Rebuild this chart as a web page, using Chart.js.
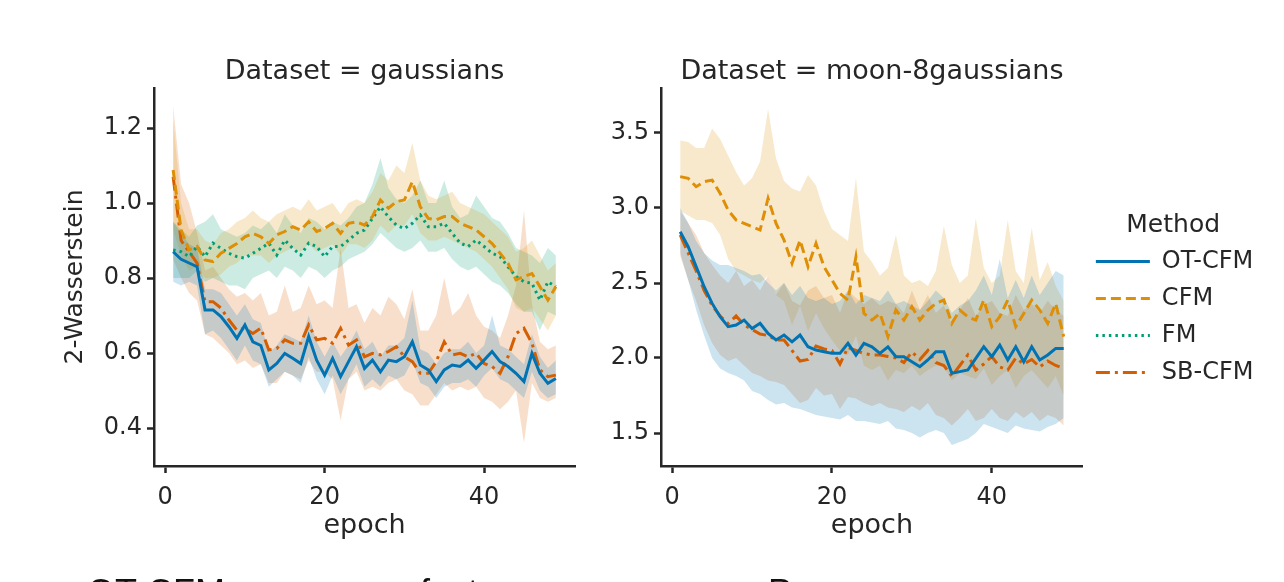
<!DOCTYPE html>
<html>
<head>
<meta charset="utf-8">
<script src="https://cdn.jsdelivr.net/npm/chart.js@4.4.1/dist/chart.umd.min.js"></script>
<style>
  html, body { margin: 0; padding: 0; background: #fff; overflow: hidden; }
  #wrap { position: relative; width: 1284px; height: 582px; overflow: hidden; background: #fff; }
  #c1 { position: absolute; left: 0; top: 0; }
  #c2 { position: absolute; left: 600px; top: 0; }
  .cap { position: absolute; top: 575px; font: 36px "Liberation Sans", Arial, sans-serif; line-height: 36px; color: #111; white-space: nowrap; }
</style>
</head>
<body>
<div id="wrap">
  <canvas id="c1" width="600" height="582"></canvas>
  <canvas id="c2" width="684" height="582"></canvas>
  <div class="cap" style="left:87px">OT-CFM converges</div>
  <div class="cap" style="left:420px">faster on average,</div>
  <div class="cap" style="left:768px">P</div>
</div>
<script>
// ---- data ----
const epochs = [1, 2, 3, 4, 5, 6, 7, 8, 9, 10, 11, 12, 13, 14, 15, 16, 17, 18, 19, 20,
  21, 22, 23, 24, 25, 26, 27, 28, 29, 30, 31, 32, 33, 34, 35, 36, 37, 38, 39, 40,
  41, 42, 43, 44, 45, 46, 47, 48, 49];
const methods = ['OT-CFM', 'CFM', 'FM', 'SB-CFM'];
const xTicks = [0, 20, 40];
const gaussTicks = [0.4, 0.6, 0.8, 1.0, 1.2];
const moonTicks = [1.5, 2.0, 2.5, 3.0, 3.5];

// Dataset = gaussians
const gOtMean = [0.87, 0.85, 0.84, 0.83, 0.715, 0.715, 0.697, 0.670, 0.639, 0.675, 0.630, 0.620, 0.555, 0.572, 0.599, 0.586, 0.572, 0.644, 0.581, 0.541,
  0.586, 0.537, 0.577, 0.617, 0.559, 0.581, 0.550, 0.581, 0.577, 0.590, 0.630, 0.568, 0.555, 0.524, 0.555, 0.568, 0.564, 0.581, 0.559, 0.581,
  0.604, 0.577, 0.564, 0.546, 0.524, 0.599, 0.546, 0.519, 0.532];
const gOtLow = [0.79, 0.78, 0.79, 0.78, 0.65, 0.66, 0.64, 0.61, 0.58, 0.62, 0.58, 0.57, 0.51, 0.53, 0.55, 0.54, 0.52, 0.59, 0.53, 0.49,
  0.54, 0.49, 0.53, 0.57, 0.51, 0.53, 0.51, 0.54, 0.53, 0.54, 0.58, 0.52, 0.51, 0.48, 0.51, 0.52, 0.52, 0.53, 0.51, 0.54,
  0.56, 0.53, 0.52, 0.50, 0.48, 0.55, 0.50, 0.48, 0.49];
const gOtHigh = [0.95, 0.92, 0.89, 0.88, 0.77, 0.77, 0.76, 0.73, 0.70, 0.73, 0.69, 0.68, 0.60, 0.62, 0.65, 0.64, 0.63, 0.70, 0.63, 0.59,
  0.63, 0.59, 0.62, 0.66, 0.61, 0.63, 0.59, 0.62, 0.62, 0.64, 0.74, 0.61, 0.60, 0.57, 0.60, 0.61, 0.61, 0.63, 0.60, 0.62,
  0.70, 0.62, 0.61, 0.59, 0.57, 0.65, 0.59, 0.56, 0.58];

const gCfmMean = [1.088, 0.928, 0.875, 0.884, 0.848, 0.844, 0.866, 0.879, 0.892, 0.910, 0.919, 0.910, 0.892, 0.915, 0.924, 0.937, 0.928, 0.950, 0.924, 0.932,
  0.946, 0.919, 0.946, 0.950, 0.941, 0.964, 1.008, 0.986, 1.004, 1.008, 1.057, 0.990, 0.959, 0.955, 0.964, 0.964, 0.946, 0.937, 0.928, 0.910,
  0.892, 0.866, 0.839, 0.795, 0.804, 0.812, 0.777, 0.741, 0.777];
const gCfmLow = [0.93, 0.86, 0.82, 0.83, 0.80, 0.80, 0.81, 0.83, 0.84, 0.86, 0.86, 0.86, 0.84, 0.86, 0.87, 0.88, 0.87, 0.89, 0.87, 0.88,
  0.89, 0.86, 0.89, 0.89, 0.88, 0.90, 0.94, 0.92, 0.94, 0.94, 0.97, 0.92, 0.90, 0.90, 0.91, 0.90, 0.89, 0.88, 0.87, 0.85,
  0.83, 0.80, 0.77, 0.72, 0.71, 0.72, 0.69, 0.66, 0.70];
const gCfmHigh = [1.22, 1.00, 0.93, 0.93, 0.90, 0.89, 0.92, 0.93, 0.95, 0.96, 0.98, 0.96, 0.95, 0.97, 0.98, 0.99, 0.98, 1.01, 0.98, 0.99,
  1.00, 0.97, 1.00, 1.01, 1.00, 1.03, 1.08, 1.06, 1.10, 1.08, 1.16, 1.06, 1.02, 1.01, 1.02, 1.03, 1.00, 0.99, 0.98, 0.97,
  0.95, 0.93, 0.91, 0.87, 0.88, 0.90, 0.86, 0.82, 0.84];

const gFmMean = [0.875, 0.870, 0.857, 0.884, 0.857, 0.893, 0.879, 0.866, 0.857, 0.853, 0.866, 0.879, 0.893, 0.861, 0.901, 0.879, 0.861, 0.893, 0.884, 0.857,
  0.884, 0.884, 0.901, 0.919, 0.928, 0.959, 0.990, 0.963, 0.941, 0.932, 0.946, 0.968, 0.937, 0.937, 0.946, 0.919, 0.893, 0.884, 0.901, 0.884,
  0.866, 0.857, 0.830, 0.804, 0.790, 0.786, 0.741, 0.790, 0.777];
const gFmLow = [0.80, 0.80, 0.80, 0.82, 0.79, 0.80, 0.79, 0.78, 0.78, 0.77, 0.80, 0.81, 0.82, 0.80, 0.83, 0.82, 0.80, 0.83, 0.82, 0.80,
  0.82, 0.83, 0.85, 0.86, 0.87, 0.89, 0.92, 0.90, 0.88, 0.87, 0.88, 0.90, 0.87, 0.87, 0.88, 0.85, 0.83, 0.82, 0.83, 0.81,
  0.79, 0.78, 0.76, 0.73, 0.71, 0.71, 0.66, 0.71, 0.70];
const gFmHigh = [0.95, 0.93, 0.91, 0.94, 0.95, 0.97, 0.93, 0.92, 0.91, 0.92, 0.94, 0.93, 0.95, 0.92, 0.97, 0.94, 0.92, 0.96, 0.95, 0.93,
  0.95, 0.94, 0.96, 0.99, 1.00, 1.05, 1.12, 1.04, 1.01, 1.00, 1.02, 1.06, 1.00, 1.00, 1.06, 0.99, 0.96, 0.97, 1.02, 0.99,
  0.96, 0.95, 0.92, 0.88, 0.87, 0.86, 0.84, 0.88, 0.86];

const gSbMean = [1.07, 0.90, 0.87, 0.84, 0.737, 0.737, 0.720, 0.688, 0.661, 0.666, 0.652, 0.666, 0.608, 0.612, 0.635, 0.626, 0.626, 0.675, 0.635, 0.639,
  0.626, 0.666, 0.621, 0.635, 0.590, 0.599, 0.595, 0.604, 0.617, 0.590, 0.577, 0.546, 0.546, 0.577, 0.630, 0.595, 0.599, 0.590, 0.599, 0.572,
  0.564, 0.546, 0.590, 0.652, 0.666, 0.626, 0.555, 0.537, 0.541];
const gSbLow = [0.85, 0.80, 0.76, 0.74, 0.65, 0.64, 0.62, 0.60, 0.57, 0.58, 0.56, 0.57, 0.52, 0.52, 0.55, 0.54, 0.53, 0.58, 0.55, 0.55,
  0.53, 0.42, 0.53, 0.55, 0.50, 0.51, 0.50, 0.52, 0.53, 0.50, 0.49, 0.46, 0.46, 0.49, 0.52, 0.50, 0.51, 0.50, 0.51, 0.48,
  0.47, 0.45, 0.47, 0.50, 0.36, 0.52, 0.48, 0.47, 0.48];
const gSbHigh = [1.26, 1.05, 1.00, 0.92, 0.82, 0.83, 0.80, 0.77, 0.75, 0.76, 0.74, 0.76, 0.70, 0.71, 0.78, 0.71, 0.72, 0.78, 0.73, 0.74,
  0.72, 0.88, 0.72, 0.73, 0.68, 0.72, 0.70, 0.75, 0.73, 0.69, 0.77, 0.66, 0.66, 0.70, 0.80, 0.70, 0.72, 0.76, 0.70, 0.67,
  0.66, 0.64, 0.70, 0.78, 0.98, 0.73, 0.63, 0.61, 0.62];

// Dataset = moon-8gaussians (no FM run)
const mOtMean = [2.842, 2.742, 2.609, 2.475, 2.364, 2.275, 2.209, 2.220, 2.253, 2.197, 2.231, 2.164, 2.120, 2.153, 2.108, 2.153, 2.075, 2.053, 2.042, 2.031,
  2.031, 2.098, 2.020, 2.098, 2.075, 2.031, 2.075, 2.009, 2.009, 1.975, 1.942, 1.987, 2.042, 2.042, 1.898, 1.909, 1.920, 1.998, 2.075, 2.009,
  2.086, 1.987, 2.075, 1.975, 2.075, 1.987, 2.020, 2.064, 2.064];
const mOtLow = [2.70, 2.52, 2.32, 2.15, 2.00, 1.93, 1.90, 1.88, 1.85, 1.78, 1.76, 1.72, 1.69, 1.70, 1.67, 1.66, 1.64, 1.62, 1.61, 1.60,
  1.59, 1.62, 1.58, 1.58, 1.57, 1.56, 1.58, 1.53, 1.52, 1.50, 1.47, 1.50, 1.52, 1.50, 1.42, 1.44, 1.46, 1.50, 1.56, 1.54,
  1.52, 1.50, 1.55, 1.53, 1.52, 1.51, 1.54, 1.56, 1.60];
const mOtHigh = [3.00, 2.90, 2.78, 2.70, 2.65, 2.62, 2.62, 2.60, 2.58, 2.55, 2.56, 2.50, 2.45, 2.50, 2.42, 2.48, 2.40, 2.38, 2.40, 2.36,
  2.38, 2.45, 2.36, 2.42, 2.40, 2.38, 2.45, 2.36, 2.38, 2.35, 2.32, 2.38, 2.45, 2.40, 2.30, 2.35, 2.38, 2.45, 2.55, 2.42,
  2.66, 2.40, 2.52, 2.40, 2.55, 2.42, 2.50, 2.58, 2.55];

const mCfmMean = [3.209, 3.198, 3.142, 3.175, 3.186, 3.098, 2.986, 2.920, 2.897, 2.875, 2.853, 3.064, 2.897, 2.786, 2.631, 2.786, 2.609, 2.764, 2.609, 2.520,
  2.431, 2.386, 2.675, 2.297, 2.253, 2.297, 2.142, 2.320, 2.253, 2.342, 2.253, 2.320, 2.364, 2.386, 2.231, 2.320, 2.275, 2.253, 2.386, 2.209,
  2.275, 2.386, 2.209, 2.297, 2.386, 2.320, 2.231, 2.364, 2.142];
const mCfmLow = [2.98, 2.95, 2.92, 2.92, 2.90, 2.82, 2.66, 2.58, 2.55, 2.52, 2.50, 2.55, 2.42, 2.38, 2.22, 2.35, 2.18, 2.30, 2.20, 2.12,
  2.05, 2.02, 2.15, 1.95, 1.92, 1.95, 1.85, 1.92, 1.90, 1.95, 1.88, 1.92, 1.95, 1.94, 1.85, 1.90, 1.88, 1.86, 1.93, 1.82,
  1.88, 1.92, 1.80, 1.88, 1.92, 1.86, 1.80, 1.88, 1.75];
const mCfmHigh = [3.45, 3.44, 3.40, 3.40, 3.53, 3.46, 3.35, 3.24, 3.15, 3.20, 3.31, 3.66, 3.33, 3.18, 3.13, 3.11, 3.22, 3.15, 2.98, 2.86,
  2.82, 2.78, 3.20, 2.71, 2.64, 2.55, 2.60, 2.82, 2.55, 2.50, 2.52, 2.48, 2.58, 2.88, 2.62, 2.50, 2.55, 2.93, 2.60, 2.50,
  2.55, 2.92, 2.58, 2.50, 2.87, 2.52, 2.64, 2.48, 2.38];

const mSbMean = [2.82, 2.70, 2.58, 2.45, 2.35, 2.28, 2.23, 2.28, 2.22, 2.19, 2.16, 2.15, 2.12, 2.12, 2.05, 1.98, 1.99, 2.08, 2.06, 2.05,
  1.96, 2.07, 2.05, 2.03, 2.02, 2.02, 2.01, 2.00, 1.97, 2.04, 1.99, 2.05, 1.97, 1.95, 1.88, 1.95, 2.02, 1.92, 1.96, 2.01,
  1.94, 1.92, 2.00, 1.96, 1.99, 1.94, 1.98, 1.95, 1.93];
const mSbLow = [2.68, 2.52, 2.38, 2.22, 2.10, 2.02, 1.98, 2.00, 1.95, 1.90, 1.88, 1.85, 1.84, 1.82, 1.76, 1.70, 1.72, 1.80, 1.75, 1.76,
  1.66, 1.74, 1.73, 1.70, 1.68, 1.70, 1.67, 1.66, 1.64, 1.68, 1.65, 1.70, 1.62, 1.60, 1.55, 1.60, 1.66, 1.58, 1.60, 1.66,
  1.60, 1.58, 1.64, 1.60, 1.64, 1.58, 1.62, 1.60, 1.55];
const mSbHigh = [2.98, 2.90, 2.82, 2.70, 2.62, 2.55, 2.50, 2.58, 2.48, 2.52, 2.45, 2.55, 2.42, 2.50, 2.38, 2.35, 2.45, 2.48, 2.40, 2.42,
  2.30, 2.45, 2.40, 2.36, 2.40, 2.35, 2.38, 2.36, 2.30, 2.45, 2.32, 2.42, 2.30, 2.35, 2.22, 2.32, 2.40, 2.28, 2.35, 2.38,
  2.30, 2.28, 2.42, 2.32, 2.36, 2.30, 2.38, 2.32, 2.28];

// ---- styles ----
const methodColors = ['#0173b2', '#de8f05', '#029e73', '#d55e00'];
const methodDash = [[], [10, 5], [2.5, 4], [14, 5, 3, 5]];
const TEXT = '#262626';
const FONT = 'DejaVu Sans';

Chart.defaults.font.family = FONT;
Chart.defaults.color = TEXT;

function pts(arr) {
  return epochs.map((e, i) => ({ x: e, y: arr[i] }));
}

function withAlpha(hex, a) {
  const n = parseInt(hex.slice(1), 16);
  return 'rgba(' + (n >> 16) + ',' + ((n >> 8) & 255) + ',' + (n & 255) + ',' + a + ')';
}

// band (low, high filled between) + mean line
function seriesSets(idx, mean, low, high) {
  const col = methodColors[idx];
  return [
    { label: methods[idx] + ' lo', data: pts(low), borderColor: 'rgba(0,0,0,0)', borderWidth: 0, pointRadius: 0, fill: false, order: 2 },
    { label: methods[idx] + ' hi', data: pts(high), borderColor: 'rgba(0,0,0,0)', borderWidth: 0, pointRadius: 0, fill: '-1', backgroundColor: withAlpha(col, 0.2), order: 2 },
    { label: methods[idx], data: pts(mean), borderColor: col, borderWidth: 3, borderDash: methodDash[idx], pointRadius: 0, fill: false, order: 1 }
  ];
}

function fixedTicks(list) {
  return function(scale) { scale.ticks = list.map(v => ({ value: v })); };
}

function axisStyle() {
  return {
    grid: { display: true, drawOnChartArea: false, drawTicks: true, tickLength: 7, tickWidth: 2.5, tickColor: TEXT },
    border: { display: true, width: 2.5, color: TEXT }
  };
}

function makeChart(id, opts) {
  const xs = axisStyle();
  const ys = axisStyle();
  return new Chart(document.getElementById(id).getContext('2d'), {
    type: 'line',
    data: { datasets: opts.datasets },
    options: {
      responsive: false,
      animation: false,
      events: [],
      layout: { padding: opts.padding },
      plugins: {
        tooltip: { enabled: false },
        title: {
          display: true, text: opts.title, fullSize: false, color: TEXT,
          font: { family: FONT, size: 27, weight: 'normal' },
          padding: { top: opts.titleTop, bottom: 0 }
        },
        legend: opts.legend
      },
      scales: {
        x: {
          type: 'linear', min: -1.4, max: 51.4,
          afterBuildTicks: fixedTicks(xTicks),
          afterFit: s => { s.height = 116; },
          grid: xs.grid, border: xs.border,
          ticks: { color: TEXT, font: { size: 24 }, padding: 10, maxRotation: 0, callback: v => String(v) },
          title: { display: true, text: 'epoch', color: TEXT, font: { size: 27 }, padding: { top: 0, bottom: 40 } }
        },
        y: {
          type: 'linear', min: opts.yMin, max: opts.yMax,
          afterBuildTicks: fixedTicks(opts.yTicks),
          afterFit: s => { s.width = opts.yWidth; },
          grid: ys.grid, border: ys.border,
          ticks: { color: TEXT, font: { size: 24 }, padding: 5, callback: v => v.toFixed(1) },
          title: opts.yTitle
        }
      }
    }
  });
}

// left: gaussians
makeChart('c1', {
  datasets: [].concat(
    seriesSets(0, gOtMean, gOtLow, gOtHigh),
    seriesSets(1, gCfmMean, gCfmLow, gCfmHigh),
    seriesSets(2, gFmMean, gFmLow, gFmHigh),
    seriesSets(3, gSbMean, gSbLow, gSbHigh)
  ),
  title: 'Dataset = gaussians',
  titleTop: 55.6,
  padding: { left: 0, top: 0, right: 25, bottom: 0 },
  yMin: 0.2987, yMax: 1.3067, yTicks: gaussTicks, yWidth: 154,
  yTitle: { display: true, text: '2-Wasserstein', color: TEXT, font: { size: 25 }, padding: { top: 60, bottom: 0 } },
  legend: { display: false }
});

// right: moon-8gaussians + legend
makeChart('c2', {
  datasets: [].concat(
    seriesSets(0, mOtMean, mOtLow, mOtHigh),
    seriesSets(1, mCfmMean, mCfmLow, mCfmHigh),
    seriesSets(3, mSbMean, mSbLow, mSbHigh)
  ),
  title: 'Dataset = moon-8gaussians',
  titleTop: 27.6,
  padding: { left: 0, top: 28, right: 20.5, bottom: 0 },
  yMin: 1.28, yMax: 3.8, yTicks: moonTicks, yWidth: 61,
  yTitle: { display: false },
  legend: {
    display: true, position: 'right', align: 'center', fullSize: true, maxWidth: 300,
    title: { display: true, text: 'Method', color: TEXT, font: { family: FONT, size: 25 }, padding: { top: 0, bottom: -6 } },
    labels: {
      usePointStyle: true, pointStyleWidth: 54, boxHeight: 10, padding: 13,
      color: TEXT, font: { family: FONT, size: 24 },
      generateLabels: () => methods.map((m, i) => ({
        text: m, fillStyle: 'rgba(0,0,0,0)', strokeStyle: methodColors[i], lineWidth: 3,
        lineDash: methodDash[i], pointStyle: 'line', hidden: false, fontColor: TEXT, datasetIndex: i
      }))
    }
  }
});
</script>
</body>
</html>
